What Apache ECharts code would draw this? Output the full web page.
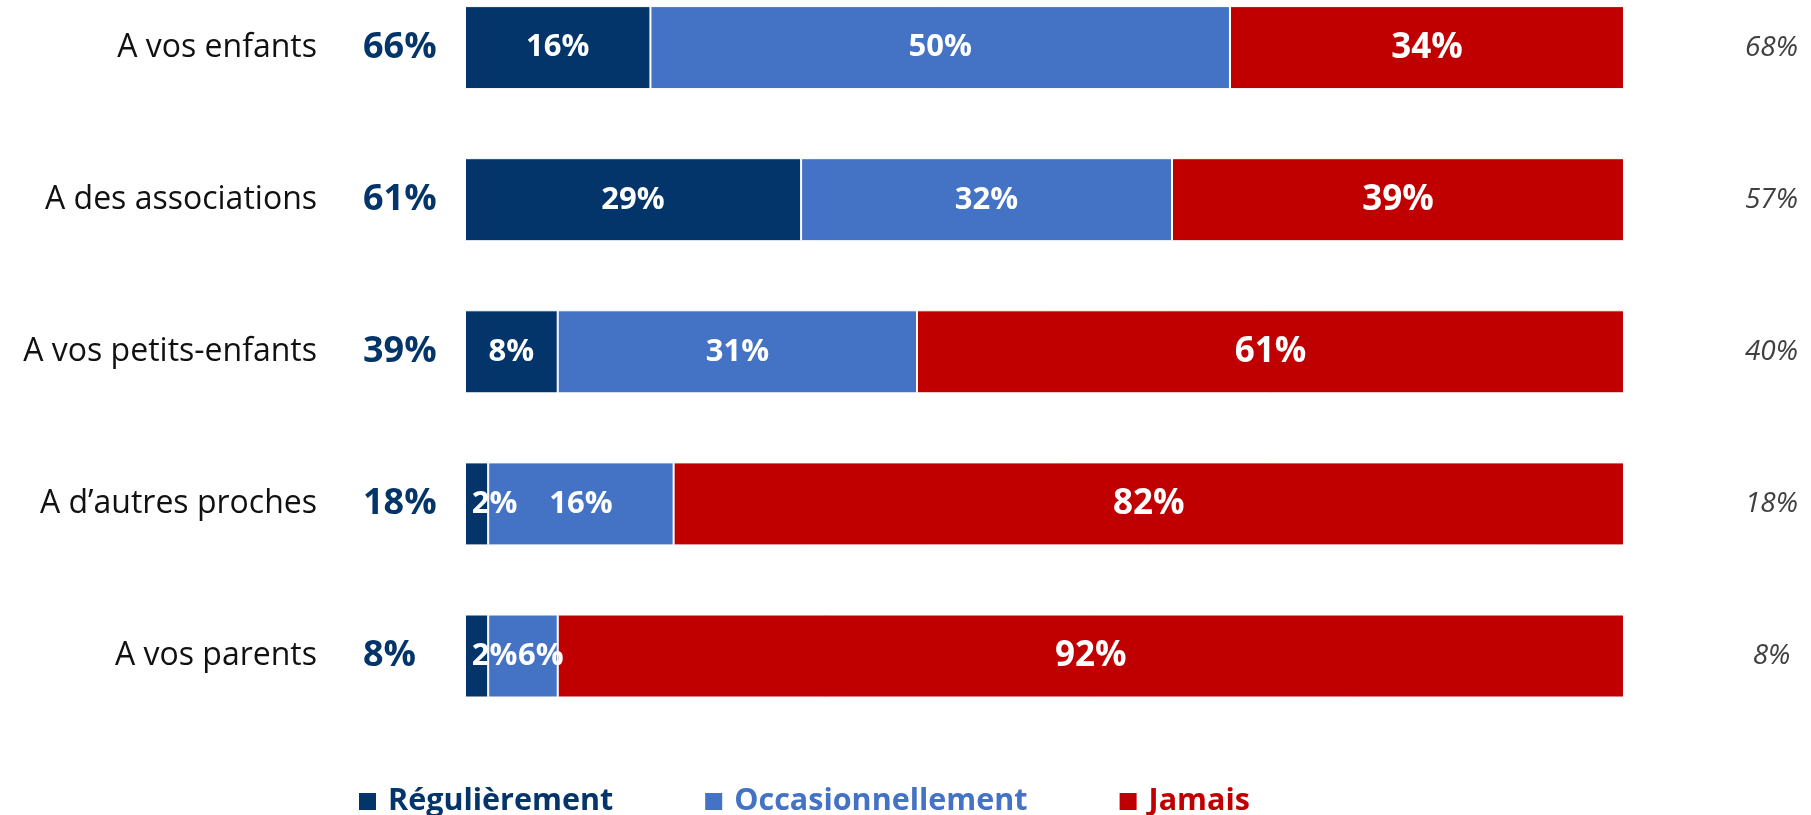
<!DOCTYPE html>
<html>
<head>
<meta charset="utf-8">
<script src="https://cdn.jsdelivr.net/npm/echarts@6/dist/echarts.min.js"></script>
<style>
  html, body { margin: 0; padding: 0; background: #fff; }
  #chart { width: 1811px; height: 815px; }
</style>
</head>
<body>
<div id="chart"></div>
<script>
const categories = ['A vos enfants', 'A des associations', 'A vos petits-enfants', 'A d\u2019autres proches', 'A vos parents'];
const regulierement = [16, 29, 8, 2, 2];
const occasionnellement = [50, 32, 31, 16, 6];
const jamais = [34, 39, 61, 82, 92];
const totals = [66, 61, 39, 18, 8];
const rightValues = [68, 57, 40, 18, 8];
const seriesNames = ['Régulièrement', 'Occasionnellement', 'Jamais'];
const colors = ['#03356A', '#4472C4', '#C00000'];

const FONT = '"Open Sans", "Noto Sans", sans-serif';

function toData(arr) {
  return arr.map(v => v < 7 ? { value: v, label: { offset: [18, 0] } } : v);
}

const chart = echarts.init(document.getElementById('chart'), null, { renderer: 'canvas' });

function barSeries(name, arr, color, fontSize) {
  return {
    name: name,
    type: 'bar',
    stack: 'total',
    yAxisIndex: 0,
    barWidth: 83,
    data: toData(arr),
    itemStyle: { color: color, borderColor: '#ffffff', borderWidth: 1 },
    label: {
      show: true,
      position: 'inside',
      color: '#ffffff',
      fontFamily: FONT,
      fontWeight: 'bold',
      fontSize: fontSize,
      formatter: p => p.value + '%'
    },
    emphasis: { disabled: true },
    animation: false
  };
}

const hiddenAxisParts = {
  boundaryGap: false,
  axisLine: { show: false },
  axisTick: { show: false },
  splitLine: { show: false }
};

chart.setOption({
  animation: false,
  backgroundColor: '#ffffff',
  grid: { left: 465, right: 187, top: 47.6, height: 608.4, containLabel: false },
  xAxis: {
    type: 'value', min: 0, max: 100, show: false
  },
  yAxis: [
    Object.assign({
      type: 'category', data: categories, inverse: true, position: 'left',
      axisLabel: {
        margin: 148, color: '#111111', fontFamily: FONT, fontSize: 32
      }
    }, hiddenAxisParts),
    Object.assign({
      type: 'category', data: categories, inverse: true, position: 'left',
      axisLabel: {
        margin: 102, align: 'left', color: '#03356A', fontFamily: FONT,
        fontWeight: 'bold', fontSize: 36,
        formatter: (v, i) => totals[i] + '%'
      }
    }, hiddenAxisParts),
    Object.assign({
      type: 'category', data: categories, inverse: true, position: 'right',
      axisLabel: {
        margin: 147.5, align: 'center', color: '#404040', fontFamily: FONT,
        fontStyle: 'italic', fontSize: 28,
        formatter: (v, i) => rightValues[i] + '%'
      }
    }, hiddenAxisParts)
  ],
  legend: {
    left: 357,
    top: 786,
    padding: 0,
    itemGap: 90,
    itemWidth: 19,
    itemHeight: 19,
    icon: 'rect',
    selectedMode: false,
    textStyle: { fontFamily: FONT, fontWeight: 'bold', fontSize: 30.5, lineHeight: 31, padding: [0, 0, 0, 6] },
    data: seriesNames.map((n, i) => ({ name: n, textStyle: { color: colors[i] } }))
  },
  series: [
    barSeries(seriesNames[0], regulierement, colors[0], 31),
    barSeries(seriesNames[1], occasionnellement, colors[1], 31),
    barSeries(seriesNames[2], jamais, colors[2], 35)
  ]
});
</script>
</body>
</html>
